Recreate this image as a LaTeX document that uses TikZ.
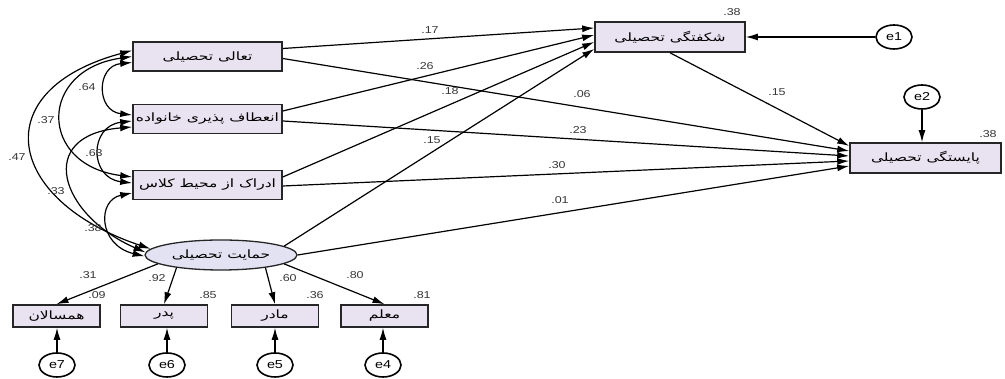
\documentclass[tikz,border=0pt]{standalone}
\usepackage{fontspec}
\setmainfont{Liberation Sans}[FakeStretch=1.25]
\newfontfamily\fafont[Script=Arabic,FakeStretch=1.35]{DejaVu Sans}
\TeXXeTstate=1
\newcommand{\fa}[1]{{\fafont\beginR #1\endR}}
\usetikzlibrary{arrows.meta,shapes.geometric}
\definecolor{boxfill}{RGB}{233,227,241}
\definecolor{latfill}{RGB}{226,226,242}
\definecolor{numgray}{RGB}{55,55,55}
\begin{document}
\begin{tikzpicture}[x=1pt,y=1pt,every path/.style={line width=1.2pt},
  var/.style={draw=black!85,fill=boxfill,line width=1.6pt,minimum width=149pt,minimum height=29pt,inner sep=1pt,font=\fontsize{11.5}{12}\selectfont},
  ind/.style={var,minimum width=87pt,minimum height=22pt},
  lat/.style={ellipse,draw=black!85,fill=latfill,line width=1.3pt,minimum width=152pt,minimum height=30pt,inner sep=0pt,font=\fontsize{11.5}{12}\selectfont},
  err/.style={ellipse,draw,line width=1.6pt,fill=white,minimum width=36pt,minimum height=24pt,inner sep=0pt,font=\fontsize{11.5}{12}\selectfont},
  num/.style={font=\fontsize{10}{11}\selectfont,text=numgray,inner sep=0pt},
  reg/.style={-{Latex[length=12pt,width=7pt]}},
  cov/.style={{Latex[length=12pt,width=7pt]}-{Latex[length=12pt,width=7pt]}}]
\useasboundingbox (0,0) rectangle (1005,379);
\node[var] (tali) at (207.5, 322.5) {\fa{تعالی تحصیلی}};
\node[var] (enet) at (207.5, 260) {\fa{انعطاف پذیری خانواده}};
\node[var] (edrak) at (207.5, 194) {\fa{ادراک از محیط کلاس}};
\node[lat] (hem) at (221, 124) {\fa{حمایت تحصیلی}};
\node[var,minimum width=150pt,minimum height=30pt] (shk) at (670, 342) {\fa{شکفتگی تحصیلی}};
\node[var,minimum width=151pt,minimum height=30pt] (pay) at (925.5, 221) {\fa{پایستگی تحصیلی}};
\node[ind] (ham) at (56.5, 63) {\fa{همسالان}};
\node[ind] (pedar) at (164, 63) {\fa{پدر}};
\node[ind] (madar) at (275, 63) {\fa{مادر}};
\node[ind] (moalem) at (384.5, 63) {\fa{معلم}};
\node[err] (e1) at (894, 342) {e1};
\node[err] (e2) at (922, 282) {e2};
\node[err] (e7) at (57, 14) {e7};
\node[err] (e6) at (167, 14) {e6};
\node[err] (e5) at (275, 14) {e5};
\node[err] (e4) at (383, 14) {e4};
\draw[cov] ([yshift=-6]tali.west) .. controls (96,313) and (96,268) .. ([yshift=4]enet.west);
\draw[cov] ([yshift=-2]enet.west) .. controls (89,253) and (89,201) .. ([yshift=2]edrak.west);
\draw[cov] ([yshift=-8]edrak.west) .. controls (97,179) and (98,134) .. (hem.181);
\draw[cov] (tali.west) .. controls (38,309) and (38,214) .. ([yshift=8]edrak.west);
\draw[cov] ([yshift=-8]enet.west) .. controls (34,244) and (60,164) .. (hem.178);
\draw[cov] ([yshift=6]tali.west) .. controls (-15,289) and (5,179) .. (hem.175);
\draw[reg] ([yshift=8]tali.east) to ([yshift=9]shk.west);
\draw[reg] ([yshift=-2]tali.east) to ([yshift=7]pay.west);
\draw[reg] ([yshift=8]enet.east) to ([yshift=2]shk.west);
\draw[reg] ([yshift=-2]enet.east) to ([yshift=2]pay.west);
\draw[reg] ([yshift=8]edrak.east) to ([yshift=-5]shk.west);
\draw[reg] ([yshift=-1]edrak.east) to ([yshift=-3]pay.west);
\draw[reg] (hem.8) to ([yshift=-12]shk.west);
\draw[reg] (hem.0) to ([yshift=-8]pay.west);
\draw[reg] (shk.south) to ([yshift=12]pay.west);
\draw[reg] (e1.west) to (shk.east);
\draw[reg] (e2.south) to (e2 |- pay.north);
\draw[reg] (hem.188) to (ham.north);
\draw[reg] (hem.196) to (pedar.north);
\draw[reg] (hem.344) to (madar.north);
\draw[reg] (hem.352) to (moalem.north);
\draw[reg] (e7.north) to (e7 |- ham.south);
\draw[reg] (e6.north) to (e6 |- pedar.south);
\draw[reg] (e5.north) to (e5 |- madar.south);
\draw[reg] (e4.north) to (e4 |- moalem.south);
\node[num] (c64) at (87, 292) {.64};
\node[num] (c37) at (46, 259) {.37};
\node[num] (c47) at (17, 222) {.47};
\node[num] (c63) at (94, 226) {.63};
\node[num] (c33) at (56, 188) {.33};
\node[num] (c38) at (93, 151) {.38};
\node[num] (w17) at (430, 349) {.17};
\node[num] (w26) at (425, 313) {.26};
\node[num] (w18) at (450, 288) {.18};
\node[num] (w15a) at (432, 239) {.15};
\node[num] (w06) at (582, 285) {.06};
\node[num] (w23) at (578, 249) {.23};
\node[num] (w30) at (557, 214) {.30};
\node[num] (w01) at (560, 179) {.01};
\node[num] (w15b) at (777, 287) {.15};
\node[num] (r2shk) at (732, 367) {.38};
\node[num] (r2pay) at (988, 245) {.38};
\node[num] (l31) at (88, 104) {.31};
\node[num] (l92) at (157, 101) {.92};
\node[num] (l60) at (288, 101) {.60};
\node[num] (l80) at (355, 104) {.80};
\node[num] (r2ham) at (97, 84) {.09};
\node[num] (r2pedar) at (208, 84) {.85};
\node[num] (r2madar) at (315, 84) {.36};
\node[num] (r2moalem) at (422, 84) {.81};
\end{tikzpicture}
\end{document}
